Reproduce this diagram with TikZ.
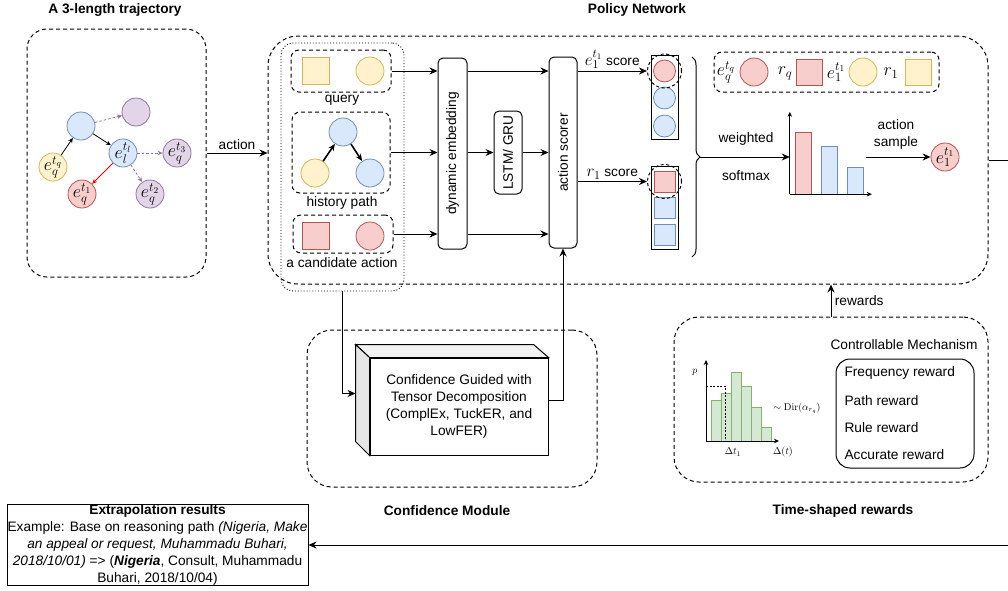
\RequirePackage{fix-cm}
\documentclass[tikz,border=0pt]{standalone}
\usepackage[no-math]{fontspec}
\setmainfont{Liberation Sans}
\usepackage{graphicx}
\usetikzlibrary{arrows.meta,positioning,decorations.pathreplacing}

% drawio palette
\definecolor{ylwfill}{HTML}{FFF2CC}
\definecolor{ylwline}{HTML}{D6B656}
\definecolor{blufill}{HTML}{DAE8FC}
\definecolor{bluline}{HTML}{6C8EBF}
\definecolor{rdfill}{HTML}{F8CECC}
\definecolor{rdline}{HTML}{B85450}
\definecolor{prpfill}{HTML}{E1D5E7}
\definecolor{prpline}{HTML}{9673A6}
\definecolor{grnfill}{HTML}{D5E8D4}
\definecolor{grnline}{HTML}{82B366}
\definecolor{cubetop}{HTML}{F2F2F2}
\definecolor{cubeside}{HTML}{E6E6E6}

\newcommand{\scoremath}[1]{{\fontsize{17}{17}\selectfont$#1$}}

\tikzset{
  txt/.style={font=\fontsize{13.7}{17}\selectfont},
  ttl/.style={font=\fontsize{13.7}{17}\selectfont\bfseries},
  mlbl/.style={font=\fontsize{18}{18}\selectfont, inner sep=0pt},
  axlbl/.style={font=\fontsize{10}{10}\selectfont, inner sep=0pt},
  ent/.style={circle, draw, line width=0.8pt, minimum size=28, inner sep=0pt, font=\fontsize{18}{18}\selectfont},
  sqr/.style={rectangle, draw, line width=0.8pt, minimum size=27, inner sep=0pt},
  ylw/.style={fill=ylwfill, draw=ylwline},
  blu/.style={fill=blufill, draw=bluline},
  rd/.style={fill=rdfill, draw=rdline},
  prp/.style={fill=prpfill, draw=prpline},
  grn/.style={fill=grnfill, draw=grnline},
  grp/.style={draw, dash pattern=on 4pt off 3pt, line width=1pt, rounded corners=#1, inner sep=0pt},
  grp/.default=8pt,
  ring/.style={circle, draw, dash pattern=on 3pt off 2.5pt, line width=1pt, minimum size=34, inner sep=0pt},
  blk/.style={draw, line width=1pt, rounded corners=5pt, inner sep=0pt, txt},
  arr/.style={line width=1pt, -{Stealth[length=8pt, width=7pt]}},
  sarr/.style={line width=0.8pt, -{Stealth[length=5pt, width=4.5pt]}},
  harr/.style={line width=1.6pt, -{Stealth[length=7pt, width=6pt]}},
}

\begin{document}
\begin{tikzpicture}[x=1pt, y=-1pt]
  \useasboundingbox (0,0) rectangle (1008,590);

  % Section titles
  \node[ttl] (ttraj) at (115,10) {A 3-length trajectory};
  \node[ttl] (tpol) at (637,10) {Policy Network};
  \node[ttl] (tconf) at (447,511) {Confidence Module};
  \node[ttl] (trew) at (843,511) {Time-shaped rewards};

  % Trajectory on the left
  \node[grp=20pt, minimum width=179, minimum height=248] (traj) at (116.5,153) {};
  \node[ent, blu] (n0) at (81,126) {};
  \node[ent, prp] (np) at (136,112) {};
  \node[ent, blu] (nl) at (123,153) {$e_l^{t_l}$};
  \node[ent, ylw] (nq) at (53,167) {$e_q^{t_q}$};
  \node[ent, rd] (n1) at (82,194) {$e_q^{t_1}$};
  \node[ent, prp] (n3) at (177,153) {$e_q^{t_3}$};
  \node[ent, prp] (n2) at (150,194) {$e_q^{t_2}$};
  \draw[sarr] (nq) -- (n0);
  \draw[sarr] (n0) -- (nl);
  \draw[sarr, red] (nl) -- (n1);
  \foreach \s/\t in {n0/np, nl/n3, nl/n2}
    \draw[sarr, prpline, dash pattern=on 2.5pt off 2pt] (\s) -- (\t);

  % Policy network frame
  \node[grp=30pt, minimum width=720, minimum height=248] (pol) at (628,160) {};
  \draw[arr] (traj.east) -- (traj.east -| pol.west) node[midway, above, txt] {action};

  % Inputs: query, history path, candidate action
  \node[draw, dotted, line width=0.9pt, rounded corners=12pt, minimum width=123, minimum height=248] (inp) at (342.5,167) {};
  \node[grp, minimum width=100, minimum height=42] (query) at (341,71) {};
  \node[sqr, ylw] (qr) at (315.5,70.5) {};
  \node[ent, ylw] (qe) at (370,71) {};
  \node[txt] (qlbl) at (342,100) {query};

  \node[grp, minimum width=98, minimum height=81] (hist) at (341,152.5) {};
  \node[ent, blu] (h0) at (343,132) {};
  \node[ent, ylw] (hq) at (315,173) {};
  \node[ent, blu] (hl) at (370,173) {};
  \draw[harr] (hq) -- (h0);
  \draw[harr] (h0) -- (hl);
  \node[txt] (hlbl) at (342,203) {history path};

  \node[grp, minimum width=100, minimum height=38] (cand) at (343,234) {};
  \node[sqr, rd] (cr) at (315.5,235.5) {};
  \node[ent, rd] (ce) at (370,236) {};
  \node[txt] (clbl) at (342,263) {a candidate action};

  % Embedding, recurrent encoder and scorer
  \node[blk, minimum width=29, minimum height=191] (dyn) at (452.5,153.5) {\rotatebox{90}{dynamic embedding}};
  \node[blk, minimum width=28, minimum height=83] (lstm) at (508,152.5) {\rotatebox{90}{LSTM/ GRU}};
  \node[blk, minimum width=28, minimum height=191] (scorer) at (563,152.5) {\rotatebox{90}{action scorer}};

  \draw[arr] (query.east) -- (query.east -| dyn.west);
  \draw[arr] (hist.east) -- (hist.east -| dyn.west);
  \draw[arr] (cand.east) -- (cand.east -| dyn.west);
  \draw[arr] (query.east -| dyn.east) -- (query.east -| scorer.west);
  \draw[arr] (dyn.east |- lstm.west) -- (lstm.west);
  \draw[arr] (lstm.east) -- (lstm.east -| scorer.west);
  \draw[arr] (cand.east -| dyn.east) -- (cand.east -| scorer.west);

  % Score columns
  \node[draw, line width=1pt, minimum width=27, minimum height=84, inner sep=0pt] (ecol) at (664.5,97) {};
  \foreach \y/\s [count=\i] in {71/rd, 98/blu, 126/blu}
    \node[ent, \s, minimum size=22] (ec\i) at (664.5,\y) {};
  \node[ring] (ering) at (ec1) {};
  \node[draw, line width=1pt, minimum width=27, minimum height=83, inner sep=0pt] (rcol) at (664.5,207.5) {};
  \foreach \y/\s [count=\i] in {181.5/rd, 208/blu, 234.5/blu}
    \node[sqr, \s, minimum size=21] (rc\i) at (664.5,\y) {};
  \node[ring] (rring) at (rc1) {};

  \draw[arr] (scorer.east |- ering) -- (ering.west) node[midway, above, txt, inner sep=2pt] {\scoremath{e_1^{t_1}} score};
  \draw[arr] (scorer.east |- rring) -- (rring.west) node[midway, above, txt, inner sep=2pt] {\scoremath{r_1} score};

  % Weighted softmax
  \draw[decorate, decoration={brace, amplitude=8pt}, line width=1pt] (692,57) -- (692,257);
  \coordinate (btip) at (700,157);
  \node[minimum width=76, minimum height=82, inner sep=0pt] (chart) at (828,153) {};
  \draw[arr] (btip) -- (btip -| chart.west);
  \node[txt] (wlbl) at (746,139) {weighted};
  \node[txt] (slbl) at (746,176) {softmax};
  \foreach \x/\h/\s in {795/132/rd, 821/146/blu, 847/167/blu}
    \draw[\s, line width=1pt] (\x,\h) rectangle (\x+16,194);
  \draw[sarr] (chart.south west) -- (chart.north west);
  \draw[sarr] (chart.south west) -- ++(82,0);

  % Sampled action
  \node[ent, rd] (eout) at (945,157) {$e_1^{t_1}$};
  \draw[arr] (chart.east |- eout) -- (eout.west);
  \node[txt, align=center] (asmp) at (896,134) {action\\sample};

  % Legend of query and sampled action
  \node[grp, minimum width=225, minimum height=40] (leg) at (826.5,72) {};
  \node[mlbl] (lq) at (726,72) {$e_q^{t_q}$};
  \node[ent, rd] (lqe) at (754,72) {};
  \node[mlbl] (lr) at (785,73) {$r_q$};
  \node[sqr, rd, minimum size=26] (lrs) at (809,72) {};
  \node[mlbl] (l1) at (836,72) {$e_1^{t_1}$};
  \node[ent, ylw] (l1e) at (863,72) {};
  \node[mlbl] (lr1) at (891,73) {$r_1$};
  \node[sqr, ylw, minimum size=26] (lr1s) at (918.5,72) {};

  % Loop back to the results
  \coordinate (outr) at (1008,160);
  \draw[line width=1pt] (pol.east) -- (outr);
  \coordinate (outb) at (1008,545);

  % Confidence module
  \node[grp=25pt, minimum width=290, minimum height=157] (conf) at (452,408.5) {};
  \node[draw, fill=white, line width=1pt, minimum width=178, minimum height=97, inner sep=0pt, align=center, txt] (cube) at (459,406.5)
    {Confidence Guided with\\Tensor Decomposition\\(ComplEx, TuckER, and\\LowFER)};
  \draw[fill=cubetop, line width=1pt] (cube.north west) -- ++(-14,-13) -- ++(178,0) -- (cube.north east) -- cycle;
  \draw[fill=cubeside, line width=1pt] (cube.north west) -- ++(-14,-13) -- ++(0,97) -- (cube.south west) -- cycle;
  \coordinate (cubein) at ([shift={(-14,-13)}]cube.west);
  \draw[arr] (inp.south) |- (cubein);
  \draw[arr] ([yshift=6pt]cube.east) -| (scorer.south);

  % Time-shaped rewards
  \node[grp=25pt, minimum width=314, minimum height=165] (rew) at (831,399.5) {};
  \draw[arr] (rew.north) -- (rew.north |- pol.south) node[midway, right, txt] {rewards};

  \foreach \x/\h in {711/400, 721/393, 731/372, 741/386, 751/407, 761/427}
    \draw[grn, line width=1pt] (\x,\h) rectangle (\x+10,441);
  \draw[line width=0.8pt, dash pattern=on 2pt off 1.5pt] (706,386) -- (725,386) -- (725,441);
  \draw[sarr] (706,441) -- (706,360);
  \draw[sarr] (706,441) -- (779,441);
  \node[axlbl] (hp) at (695,372) {$p$};
  \node[axlbl] (ht1) at (733,452) {$\Delta t_1$};
  \node[axlbl] (hdt) at (783,452) {$\Delta(t)$};
  \node[axlbl] (hdir) at (797,408) {$\sim\mathrm{Dir}(\alpha_{r_q})$};

  \node[txt] (mtitle) at (904,345) {Controllable Mechanism};
  \node[draw, line width=1pt, rounded corners=14pt, minimum width=138, minimum height=109] (mech) at (905,413.5) {};
  \foreach \y/\t [count=\i] in {373/Frequency reward, 401/Path reward, 428/Rule reward, 455/Accurate reward}
    \node[txt, anchor=west] (mi\i) at (841,\y) {\t};

  % Extrapolation results
  \node[draw, line width=1pt, minimum width=301, minimum height=81, inner sep=0pt, align=center, txt] (extr) at (157.5,544.5)
    {\textbf{Extrapolation results}\\
     Example: Base on reasoning path \textit{(Nigeria, Make}\\
     \textit{an appeal or request, Muhammadu Buhari,}\\
     \textit{2018/10/01)} => (\textbf{\textit{Nigeria}}, Consult, Muhammadu\\
     Buhari, 2018/10/04)};
  \draw[arr] (outb) -- (outb -| extr.east);
\end{tikzpicture}
\end{document}
